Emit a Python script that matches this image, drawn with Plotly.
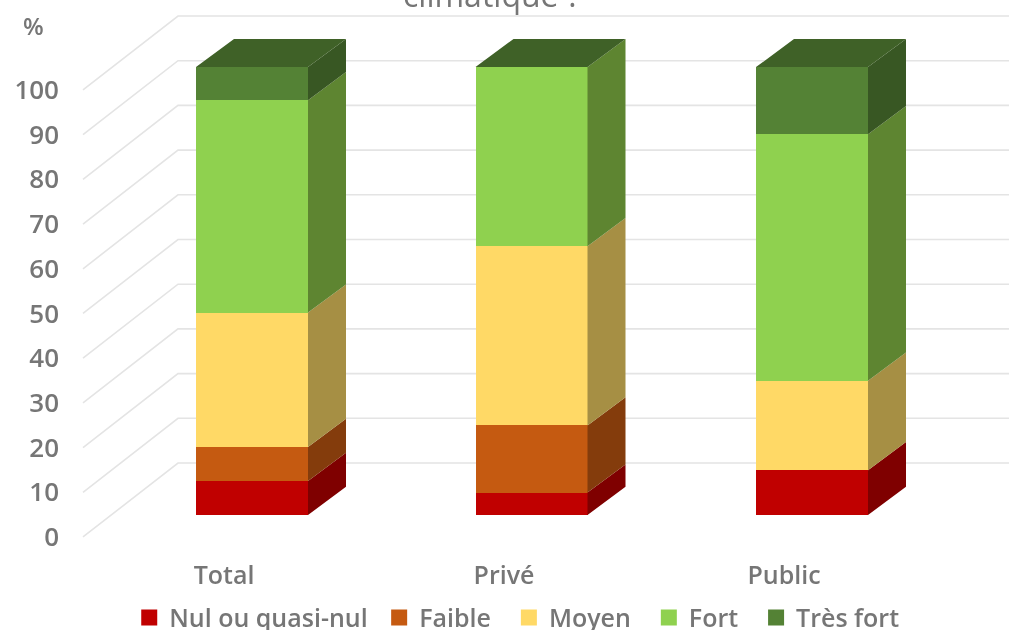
import plotly.graph_objects as go

categories = ["Total", "Privé", "Public"]
series_names = ["Nul ou quasi-nul", "Faible", "Moyen", "Fort", "Très fort"]
nul = [7.6, 5, 10]
faible = [7.6, 15, 0]
moyen = [30, 40, 20]
fort = [47.4, 40, 55]
tres_fort = [7.4, 0, 15]
all_values = [nul, faible, moyen, fort, tres_fort]
tick_values = list(range(0, 101, 10))

front_colors = ["#C00000", "#C55A11", "#FFD966", "#8FD14F", "#548235"]
side_colors = ["#7F0000", "#843C0C", "#A68F44", "#5E8531", "#385723"]
top_color = "#3F6127"
grid_color = "#E4E4E4"
text_color = "#767676"
font_family = "Open Sans"

# layout geometry in axis units (x in px-like units, y in percent)
bar_centers = [252, 531.5, 812]
label_positions = [224, 504, 784]
bar_width = 112
depth_x, depth_y = 38, 6.3
bar_floor = 4.92
scale = 1.002
wall_x0, wall_x1, wall_right, wall_y = 83, 178, 1009, 16.55
legend_padding = [1, 2, 2, 2, 0]

fig = go.Figure()

for t in tick_values:
    fig.add_shape(type="path",
                  path=f"M {wall_x0} {t} L {wall_x1} {t + wall_y} L {wall_right} {t + wall_y}",
                  xref="x", yref="y", layer="below",
                  line=dict(color=grid_color, width=1.6))

bases = [bar_floor] * len(categories)
for name, vals, fc, sc in zip(series_names, all_values, front_colors, side_colors):
    heights = [v * scale for v in vals]
    fig.add_trace(go.Bar(name=name, x=bar_centers, y=heights, base=bases, width=bar_width,
                         marker=dict(color=fc, line=dict(width=0)), hoverinfo="skip",
                         showlegend=False))
    sx, sy = [], []
    for c, b, h in zip(bar_centers, bases, heights):
        r = c + bar_width / 2
        sx += [r, r + depth_x, r + depth_x, r, r, None]
        sy += [b, b + depth_y, b + h + depth_y, b + h, b, None]
    fig.add_trace(go.Scatter(x=sx, y=sy, mode="lines", fill="toself", fillcolor=sc,
                             line=dict(width=0, color=sc), showlegend=False, hoverinfo="skip"))
    bases = [b + h for b, h in zip(bases, heights)]

tx, ty = [], []
for c, b in zip(bar_centers, bases):
    l, r = c - bar_width / 2, c + bar_width / 2
    tx += [l, r, r + depth_x, l + depth_x, l, None]
    ty += [b, b, b + depth_y, b + depth_y, b, None]
fig.add_trace(go.Scatter(x=tx, y=ty, mode="lines", fill="toself", fillcolor=top_color,
                         line=dict(width=0, color=top_color), showlegend=False, hoverinfo="skip"))

# legend keys: square swatches, as in the reference
for name, fc, pad in zip(series_names, front_colors, legend_padding):
    fig.add_trace(go.Scatter(x=[None], y=[None], mode="markers", name=name + "\u00a0" * pad,
                             marker=dict(symbol="square", size=16, color=fc, line=dict(width=0))))

fig.add_annotation(x=-0.0306, y=0.955, xref="paper", yref="paper", text="%", showarrow=False,
                   xanchor="center", yanchor="middle",
                   font=dict(family=font_family, size=24, color=text_color, weight=600))
fig.add_annotation(x=0.454, y=1.01, xref="paper", yref="paper", text="climatique ?", showarrow=False,
                   xanchor="center", yanchor="middle",
                   font=dict(family=font_family, size=32, color=text_color))

fig.update_layout(
    width=1009, height=630,
    margin=dict(l=62, r=0, t=0, b=72, autoexpand=False),
    paper_bgcolor="white", plot_bgcolor="white",
    barmode="overlay", bargap=0,
    showlegend=True,
    legend=dict(orientation="h", x=0.071, xref="paper", y=-0.066, yref="paper",
                xanchor="left", yanchor="top", traceorder="normal", itemsizing="trace",
                font=dict(family=font_family, size=25, color=text_color, weight=600),
                bgcolor="rgba(0,0,0,0)"),
    xaxis=dict(range=[62, 1009], tickmode="array", tickvals=label_positions, ticktext=categories,
               showgrid=False, zeroline=False, showline=False, ticks="", automargin=False,
               ticklabelstandoff=0,
               tickfont=dict(family=font_family, size=25, color=text_color, weight=600)),
    yaxis=dict(range=[-4.7, 120.13], tickmode="array", tickvals=tick_values,
               showgrid=False, zeroline=False, showline=False, ticks="", automargin=False,
               ticklabelstandoff=2,
               tickfont=dict(family=font_family, size=26, color=text_color, weight=600)),
)

fig.write_html("out.html", config={"displayModeBar": False},
               post_script="document.body.style.margin='0';"
                           "document.querySelector('.plotly-graph-div').style.filter='blur(0.5px)';")
